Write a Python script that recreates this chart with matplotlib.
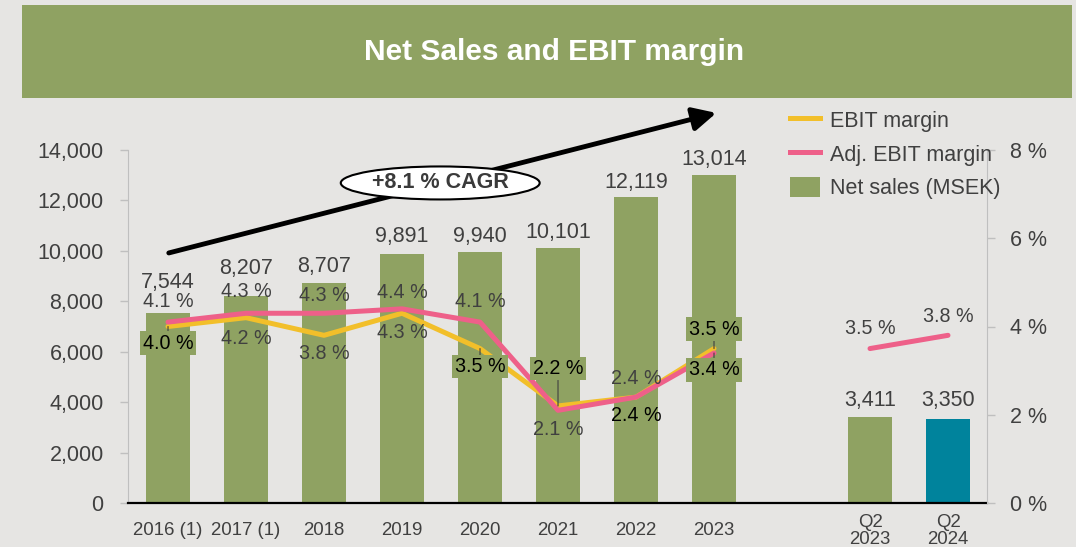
import numpy as np
import matplotlib
matplotlib.use('Agg')
from matplotlib import pyplot as plt
from matplotlib.patches import Rectangle, Ellipse, Patch
from matplotlib.lines import Line2D
from matplotlib.ticker import FuncFormatter

plt.rcParams['font.family'] = ['Liberation Sans', 'DejaVu Sans']

# data
categories = ['2016 (1)', '2017 (1)', '2018', '2019', '2020', '2021', '2022', '2023', 'Q2\n2023', 'Q2\n2024']
net_sales = [7544, 8207, 8707, 9891, 9940, 10101, 12119, 13014]
q2_sales = [3411, 3350]
ebit_margin = [4.0, 4.2, 3.8, 4.3, 3.5, 2.2, 2.4, 3.5]
adj_ebit_margin = [4.1, 4.3, 4.3, 4.4, 4.1, 2.1, 2.4, 3.4]
q2_adj_ebit_margin = [3.5, 3.8]
cagr_text = '+8.1 % CAGR'

# colours
bg = '#e6e5e3'
green = '#8fa262'
teal = '#00839c'
yellow = '#f2bf2a'
pink = '#ee6089'
grey_txt = '#404040'

# label offsets (points, vertical) - layout only
sales_off = [22, 20, 12, 12, 11.5, 11.5, 11, 11]
q2_sales_off = [12, 13]
ebit_off = [-12, -15, -13, -13.5, -13, 27, -13, 14]
adj_off = [14.5, 15.5, 13, 12, 14.5, -14, 13.5, -12]
q2_adj_off = [14.5, 13.5]
ebit_boxed = {0, 4, 5, 7}
ebit_black = {0, 4, 5, 6, 7}
adj_boxed = {7}

x_years = np.arange(len(net_sales))
x_q2 = np.array([9, 10])

fig = plt.figure(figsize=(10.76, 5.47), dpi=100, facecolor=bg)

# title banner
fig.patches.append(Rectangle((22 / 1076, 1 - 98 / 547), 1050 / 1076, 93 / 547,
                             transform=fig.transFigure, facecolor=green, edgecolor='none', zorder=0))
fig.text(554 / 1076, 1 - 52 / 547, 'Net Sales and EBIT margin', ha='center', va='center',
         fontsize=21.5, fontweight='bold', color='white')

ax = fig.add_axes([128 / 1076, 1 - 503 / 547, (987 - 128) / 1076, (503 - 150) / 547])
ax.set_facecolor(bg)
ax2 = ax.twinx()

bw = 0.555
ax.bar(x_years, net_sales, width=bw, color=green, zorder=2)
ax.bar(x_q2, q2_sales, width=bw, color=[green, teal], zorder=2)

for x, v, o in zip(x_years, net_sales, sales_off):
    ax.annotate(f'{v:,}', (x, v), xytext=(0, o), textcoords='offset points',
                ha='center', va='center', fontsize=15.5, color=grey_txt)
for x, v, o in zip(x_q2, q2_sales, q2_sales_off):
    ax.annotate(f'{v:,}', (x, v), xytext=(0, o), textcoords='offset points',
                ha='center', va='center', fontsize=15.5, color=grey_txt)

ax.set_xlim(-0.513, 10.5)
ax.set_ylim(0, 14000)
ax2.set_ylim(0, 8)
ax.set_yticks(np.arange(0, 14001, 2000))
ax.yaxis.set_major_formatter(FuncFormatter(lambda v, p: f'{int(v):,}'))
ax2.set_yticks(np.arange(0, 9, 2))
ax2.yaxis.set_major_formatter(FuncFormatter(lambda v, p: f'{int(v)} %'))

ax.set_xticks(list(x_years) + list(x_q2))
ax.set_xticklabels(categories, fontsize=13.4, color=grey_txt, linespacing=1.0)
for lab in ax.get_xticklabels():
    lab.set_va('center')
ax.tick_params(axis='x', length=0, pad=20)
ax.tick_params(axis='y', direction='out', length=5.5, width=1, color='#bfbfbf',
               labelsize=15.5, labelcolor=grey_txt, pad=12)
ax2.tick_params(axis='y', direction='out', length=5.5, width=1, color='#bfbfbf',
                labelsize=15.5, labelcolor=grey_txt, pad=11)

for s in ['top', 'right']:
    ax.spines[s].set_visible(False)
for s in ['top', 'left', 'bottom']:
    ax2.spines[s].set_visible(False)
ax.spines['left'].set_color('#bfbfbf')
ax2.spines['right'].set_color('#bfbfbf')
ax.spines['bottom'].set_color('black')
ax.spines['bottom'].set_linewidth(1.6)

# margin lines
ax2.plot(x_years, ebit_margin, color=yellow, lw=3.6, solid_capstyle='round', zorder=3)
ax2.plot(x_years, adj_ebit_margin, color=pink, lw=3.6, solid_capstyle='round', zorder=4)
ax2.plot(x_q2, q2_adj_ebit_margin, color=pink, lw=3.6, solid_capstyle='round', zorder=4)


def pct_label(x, v, o, boxed, black):
    kw = dict(xytext=(0, o), textcoords='offset points', ha='center', va='center',
              fontsize=14.2, color='black' if black else grey_txt, zorder=6)
    if boxed:
        kw['bbox'] = dict(boxstyle='square,pad=0.12', facecolor=green, edgecolor='none')
        kw['arrowprops'] = dict(arrowstyle='-', color=grey_txt, lw=0.8, shrinkA=0, shrinkB=0)
    ax2.annotate(f'{v:.1f} %', (x, v), **kw)


for i, (x, v) in enumerate(zip(x_years, ebit_margin)):
    pct_label(x, v, ebit_off[i], i in ebit_boxed, i in ebit_black)
for i, (x, v) in enumerate(zip(x_years, adj_ebit_margin)):
    pct_label(x, v, adj_off[i], i in adj_boxed, i in adj_boxed)
for x, v, o in zip(x_q2, q2_adj_ebit_margin, q2_adj_off):
    pct_label(x, v, o, False, False)

# CAGR arrow and ellipse
ax.annotate('', xy=(7.03, 15470), xytext=(0.01, 9917), annotation_clip=False,
            arrowprops=dict(arrowstyle='-|>,head_length=0.7,head_width=0.35', lw=3.5,
                            color='black', mutation_scale=20, shrinkA=0, shrinkB=0), zorder=5)
ax.add_patch(Ellipse((3.49, 12693), 2.55, 1309, facecolor='white', edgecolor='black',
                     lw=1.5, zorder=6, clip_on=False))
ax.text(3.49, 12693, cagr_text, ha='center', va='center', fontsize=15.5, fontweight='bold',
        color='#3a3a3a', zorder=7)

handles = [Line2D([], [], color=yellow, lw=3.6), Line2D([], [], color=pink, lw=3.6),
           Patch(facecolor=green, edgecolor='none')]
leg = fig.legend(handles, ['EBIT margin', 'Adj. EBIT margin', 'Net sales (MSEK)'],
                 loc='upper left', bbox_to_anchor=(790 / 1076, 1 - 109 / 547), frameon=False,
                 fontsize=15.5, handlelength=1.4, handletextpad=0.45, labelspacing=0.52,
                 borderpad=0, borderaxespad=0, handleheight=1.1)
for t in leg.get_texts():
    t.set_color(grey_txt)

fig.savefig('out.png', dpi=100, facecolor=fig.get_facecolor())
